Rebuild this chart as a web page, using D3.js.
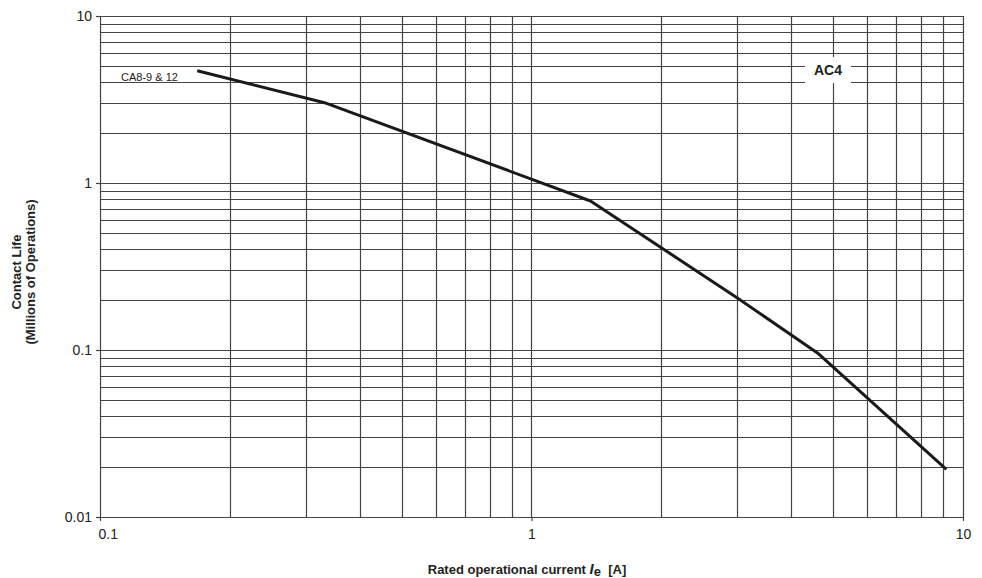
<!DOCTYPE html>
<html>
<head>
<meta charset="utf-8">
<script src="https://cdn.jsdelivr.net/npm/d3@7"></script>
<style>
  body { margin: 0; background: #fff; }
  text { font-family: "Liberation Sans", Arial, sans-serif; fill: #222; }
</style>
</head>
<body>
<div id="chart"></div>
<script>
// contact life curve, AC4 category
var currentA = [0.168, 0.335, 1.37, 3.0, 4.6, 9.15];
var lifeMillions = [4.7, 3.0, 0.78, 0.205, 0.096, 0.0193];

var xTicks = [0.1, 1, 10];
var xTickLabels = ["0.1", "1", "10"];
var yTicks = [0.01, 0.1, 1, 10];
var yTickLabels = ["0.01", "0.1", "1", "10"];

var W = 982, H = 578;
var plot = {l: 100, r: 963, t: 16, b: 517};

var svg = d3.select("#chart").append("svg")
    .attr("width", W)
    .attr("height", H);

var x = d3.scaleLog().domain([0.1, 10]).range([plot.l, plot.r]);
var y = d3.scaleLog().domain([0.01, 10]).range([plot.b, plot.t]);

//grid lines at every log tick
var grid = svg.append("g").attr("class", "grid")
    .attr("stroke", "#444")
    .attr("stroke-width", 1.2);

grid.selectAll(".vl")
    .data(x.ticks())
    .enter().append("line")
    .attr("x1", function(d) { return Math.round(x(d)) + 0.5; })
    .attr("x2", function(d) { return Math.round(x(d)) + 0.5; })
    .attr("y1", plot.t)
    .attr("y2", plot.b);

grid.selectAll(".hl")
    .data(y.ticks())
    .enter().append("line")
    .attr("y1", function(d) { return Math.round(y(d)) + 0.5; })
    .attr("y2", function(d) { return Math.round(y(d)) + 0.5; })
    .attr("x1", plot.l)
    .attr("x2", plot.r);

//axes
var xAxis = svg.append("g")
    .attr("transform", "translate(0," + plot.b + ")")
    .call(d3.axisBottom(x)
        .tickValues(xTicks)
        .tickSize(4)
        .tickPadding(8)
        .tickFormat(function(d, i) { return xTickLabels[i]; }));

var yAxis = svg.append("g")
    .attr("transform", "translate(" + plot.l + ",0)")
    .call(d3.axisLeft(y)
        .tickValues(yTicks)
        .tickSize(4)
        .tickPadding(4)
        .tickFormat(function(d, i) { return yTickLabels[i]; }));

[xAxis, yAxis].forEach(function(a) {
    a.select(".domain").remove();
    a.selectAll("line").attr("stroke", "#444").attr("stroke-width", 1.2);
    a.selectAll("text")
        .attr("font-size", "14px")
        .attr("font-family", "Liberation Sans, Arial, sans-serif")
        .attr("fill", "#222");
});

//first x label sits to the right of its tick
xAxis.selectAll("text")
    .filter(function(d) { return d === 0.1; })
    .attr("text-anchor", "start")
    .attr("dx", -2);

//curve
var line = d3.line()
    .x(function(d) { return x(d[0]); })
    .y(function(d) { return y(d[1]); });

svg.append("path")
    .datum(d3.zip(currentA, lifeMillions))
    .attr("d", line)
    .attr("fill", "none")
    .attr("stroke", "#1a1a1a")
    .attr("stroke-width", 3)
    .attr("stroke-linejoin", "round");

//labels inside plot
svg.append("text")
    .attr("x", 121)
    .attr("y", 81)
    .attr("font-size", "11px")
    .text("CA8-9 & 12");

svg.append("rect")
    .attr("x", 805)
    .attr("y", 57)
    .attr("width", 46)
    .attr("height", 26)
    .attr("fill", "#fff");

svg.append("text")
    .attr("x", 828)
    .attr("y", 75)
    .attr("text-anchor", "middle")
    .attr("font-size", "14px")
    .attr("font-weight", "bold")
    .text("AC4");

//axis titles
var xt = svg.append("text")
    .attr("x", 527)
    .attr("y", 574)
    .attr("text-anchor", "middle")
    .attr("font-size", "13px")
    .attr("font-weight", "bold");
xt.append("tspan").text("Rated operational current ");
xt.append("tspan").attr("font-style", "italic").attr("font-size", "15px").text("I");
xt.append("tspan").attr("dy", 2).text("e");
xt.append("tspan").attr("dy", -2).attr("xml:space", "preserve").text("  [A]");

var yt = svg.append("g")
    .attr("transform", "translate(0,272) rotate(-90)");
yt.append("text")
    .attr("x", 0)
    .attr("y", 21)
    .attr("text-anchor", "middle")
    .attr("font-size", "13px")
    .attr("font-weight", "bold")
    .text("Contact Life");
yt.append("text")
    .attr("x", 0)
    .attr("y", 35)
    .attr("text-anchor", "middle")
    .attr("font-size", "13px")
    .attr("font-weight", "bold")
    .text("(Millions of Operations)");
</script>
</body>
</html>
